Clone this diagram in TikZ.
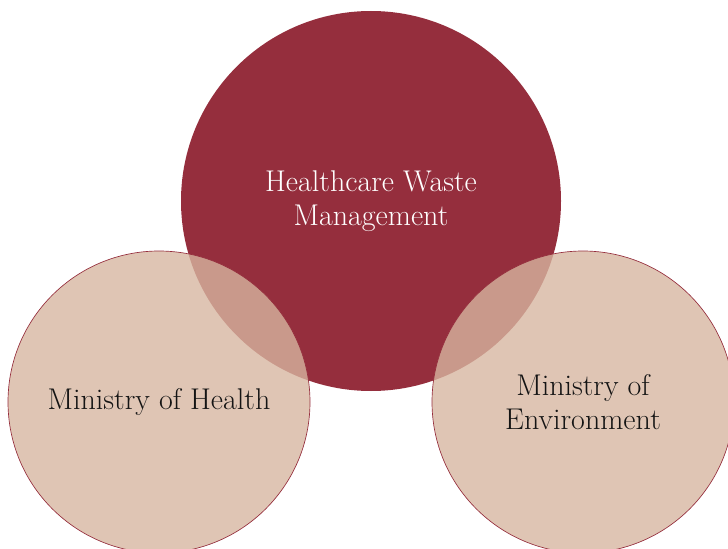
\documentclass[tikz,border=0pt]{standalone}
\usepackage{tikz}
\definecolor{wine}{RGB}{149,46,61}
\definecolor{sand}{RGB}{215,182,160}
\definecolor{ink}{RGB}{20,20,20}

\begin{document}
\begin{tikzpicture}[x=0.75pt,y=-0.75pt,
  core/.style={circle,fill=wine,minimum size=380*0.75pt,inner sep=0pt},
  side/.style={circle,fill=sand,fill opacity=0.79,draw=wine,line width=0.5pt,
               minimum size=302*0.75pt,inner sep=0pt},
  lbl/.style={align=center,font=\fontsize{22.5}{26}\selectfont,text=ink}
]
  \useasboundingbox (0,0) rectangle (728,549);
  \node[core] (hwm) at (371,201) {};
  \node[side] (moh) at (159,402) {};
  \node[side] (moe) at (583,402) {};
  \node[lbl,text=white] (hwmtxt) at (hwm) {Healthcare Waste\\Management};
  \node[lbl] (mohtxt) at (moh) {Ministry of Health};
  \node[lbl] (moetxt) at (moe) {Ministry of\\Environment};
\end{tikzpicture}
\end{document}
